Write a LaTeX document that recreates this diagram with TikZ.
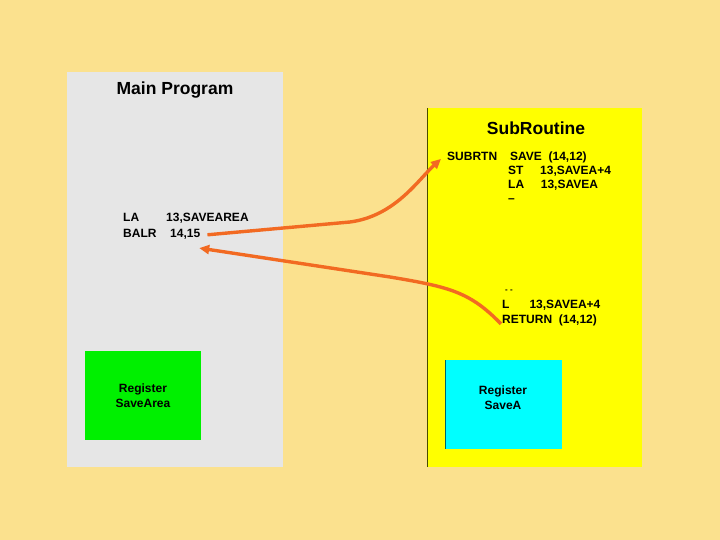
\documentclass[tikz,border=0pt]{standalone}
\usepackage{fontspec}
\setmainfont{Liberation Sans}
\usepackage{tikz}
\usetikzlibrary{positioning, arrows.meta}
\definecolor{cBack}   {HTML}{FBE18E}
\definecolor{cPanel}  {HTML}{E6E6E6}
\definecolor{cSub}    {HTML}{FFFF00}
\definecolor{cGreen}  {HTML}{00F000}
\definecolor{cCyan}   {HTML}{00FFFF}
\definecolor{cArrow}  {HTML}{F26A22}

\tikzset{
  code/.style={anchor=base west, inner sep=0pt, font=\bfseries\fontsize{12}{13}\selectfont},
  title/.style={inner sep=0pt, font=\bfseries\fontsize{17.5}{20}\selectfont},
  call/.style={cArrow, line width=3.4pt, -{Triangle[length=10pt, width=9pt]}},
}

\begin{document}
\begin{tikzpicture}[x=1pt, y=-1pt]
  \fill[cBack] (0,0) rectangle (720,540);
  \useasboundingbox (0,0) rectangle (720,540);
  % panels
  \fill[cPanel] (67,72) rectangle (283,467);
  \fill[cSub] (427,108) rectangle (642,467);
  \draw[black!70!cSub, line width=0.8pt] (427,108) -- (427,467);
  \fill[cGreen] (85,351) rectangle (201,440);
  \fill[cCyan] (445,360) rectangle (562,449);
  \draw[black!60!cCyan, line width=0.8pt] (445,360) -- (445,449);

  \node[title] (main) at (175,90) {Main Program};
  \node[title] (sub) at (536,128) {SubRoutine};

  % main program code
  \node[code] (la) at (123,222) {LA};
  \node[code] (laop) at (166,222) {13,SAVEAREA};
  \node[code] (balr) at (123,237) {BALR};
  \node[code] (balrop) at (170,237) {14,15};

  % subroutine code
  \node[code] (subrtn) at (447,161) {SUBRTN};
  \node[code] (save) at (510,161) {SAVE\ \ (14,12)};
  \node[code] (st) at (508,175) {ST\ \ \ \ \ 13,SAVEA+4};
  \node[code] (las) at (508,189) {LA\ \ \ \ \ 13,SAVEA};
  \node[code] (dash) at (508,203) {--};
  \node[code] (dots) at (505,292) {\fontsize{8}{8}\selectfont - -};
  \node[code] (ld) at (502,308) {L\ \ \ \ \ \ 13,SAVEA+4};
  \node[code] (ret) at (502,323) {RETURN\ \ (14,12)};

  \node[inner sep=0pt, align=center, font=\bfseries\fontsize{12}{15}\selectfont]
    (rsa) at (143,396) {Register\\SaveArea};
  \node[inner sep=0pt, align=center, font=\bfseries\fontsize{12}{15}\selectfont]
    (rsb) at (503,398) {Register\\SaveA};

  % arrows
  \coordinate (bend) at (350,222);
  \draw[call] ([xshift=7pt, yshift=-1pt]balrop.east) -- (bend)
    .. controls (395,216) and (418,180) .. ([xshift=-6pt, yshift=-2pt]subrtn.west);
  \draw[call] ([xshift=-1pt, yshift=-4pt]ret.west)
    .. controls (470,292) and (450,287) .. (390,277)
    -- ([xshift=14pt, yshift=-9pt]balrop.south);
\end{tikzpicture}
\end{document}
